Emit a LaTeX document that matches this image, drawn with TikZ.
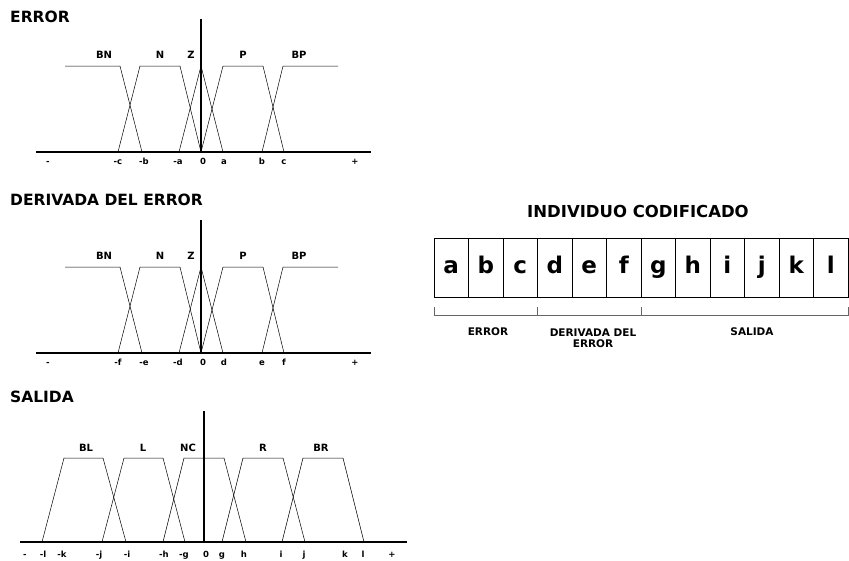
\documentclass[tikz,border=0pt]{standalone}
\usepackage{fontspec}
\setmainfont{DejaVu Sans}
\usetikzlibrary{positioning}

\begin{document}
\begin{tikzpicture}[x=1pt,y=-1pt,
  title/.style={font=\fontsize{15.5}{17}\selectfont\bfseries,anchor=base west,inner sep=0pt},
  setname/.style={font=\fontsize{10}{11}\selectfont\bfseries,anchor=base,inner sep=0pt},
  tick/.style={font=\fontsize{8.5}{10}\selectfont\bfseries,anchor=base,inner sep=0pt},
  axis/.style={line width=1.5pt},
  mf/.style={line width=0.5pt},
  cell/.style={draw,line width=0.7pt,minimum width=34.5pt,minimum height=59pt,inner sep=0pt,
    outer sep=0pt,font=\fontsize{23}{25}\selectfont\bfseries,text height=17.5pt,text depth=5pt},
  part/.style={font=\fontsize{10.5}{11}\selectfont\bfseries,align=center,inner sep=0pt},
  bracket/.style={line width=0.5pt,draw=black!60}
]
\useasboundingbox (0,0) rectangle (849,560);

\node[title] (terror) at (10,22) {ERROR};
\node[title] (tderiv) at (10,205) {DERIVADA DEL ERROR};
\node[title] (tsalida) at (10,402) {SALIDA};

\foreach \dy/\ta/\tb/\tc in {0/a/b/c,201/d/e/f}{
  \draw[axis] (36,\dy+152) -- (371,\dy+152);
  \draw[axis,line width=1.8pt] (201,\dy+19) -- (201,\dy+152);
  \draw[mf] (65,\dy+66) -- (120,\dy+66) -- (142,\dy+152);
  \draw[mf] (118,\dy+152) -- (140,\dy+66) -- (180,\dy+66) -- (201,\dy+152);
  \draw[mf] (179,\dy+152) -- (201,\dy+66) -- (223,\dy+152);
  \draw[mf] (201,\dy+152) -- (223,\dy+66) -- (263,\dy+66) -- (284,\dy+152);
  \draw[mf] (262,\dy+152) -- (283,\dy+66) -- (338,\dy+66);
  \foreach \x/\s in {104/BN,160/N,191/Z,243/P,299/BP}
    \node[setname] (s\dy\s) at (\x,\dy+58) {\s};
  \foreach \x/\t [count=\k] in {48/-,118/-\tc,144/-\tb,178/-\ta,203/0,224/\ta,262/\tb,284/\tc,355/+}
    \node[tick] (t\dy-\k) at (\x,\dy+164) {\t};
}

\draw[axis] (20,542) -- (407,542);
\draw[axis,line width=1.3pt] (204,411) -- (204,542);
\draw[mf] (42,542) -- (64,458) -- (103,458) -- (126,542);
\draw[mf] (102,542) -- (124,458) -- (163,458) -- (185,542);
\draw[mf] (163,542) -- (184,458) -- (224,458) -- (246,542);
\draw[mf] (222,542) -- (243,458) -- (283,458) -- (305,542);
\draw[mf] (282,542) -- (303,458) -- (343,458) -- (364,542);
\foreach \x/\s in {86/BL,143/L,188/NC,263/R,321/BR}
  \node[setname] (o\s) at (\x,451) {\s};
\foreach \x/\t [count=\k] in {25/-,43/-l,62/-k,99/-j,127/-i,164/-h,184/-g,206/0,222/g,244/h,281/i,304/j,345/k,363/l,392/+}
  \node[tick] (u\k) at (\x,557) {\t};

\node[title,anchor=base,font=\fontsize{16.5}{18}\selectfont\bfseries] (tind) at (638,217) {INDIVIDUO CODIFICADO};
\foreach \l [count=\i] in {a,b,c,d,e,f,g,h,i,j,k,l}
  \node[cell] (cell\l) at ({434+34.5*(\i-0.5)},267.5) {\l};

\draw[bracket] ([yshift=-10pt]cella.south west) -- ([yshift=-18pt]cella.south west)
  -- ([yshift=-18pt]celll.south east) -- ([yshift=-10pt]celll.south east);
\draw[bracket] ([yshift=-10pt]cellc.south east) -- ([yshift=-18pt]cellc.south east);
\draw[bracket] ([yshift=-10pt]cellf.south east) -- ([yshift=-18pt]cellf.south east);
\node[part] (perror) at (488,332) {ERROR};
\node[part] (pderiv) at (593,338) {DERIVADA DEL\\ERROR};
\node[part] (psalida) at (752,332) {SALIDA};
\end{tikzpicture}
\end{document}
